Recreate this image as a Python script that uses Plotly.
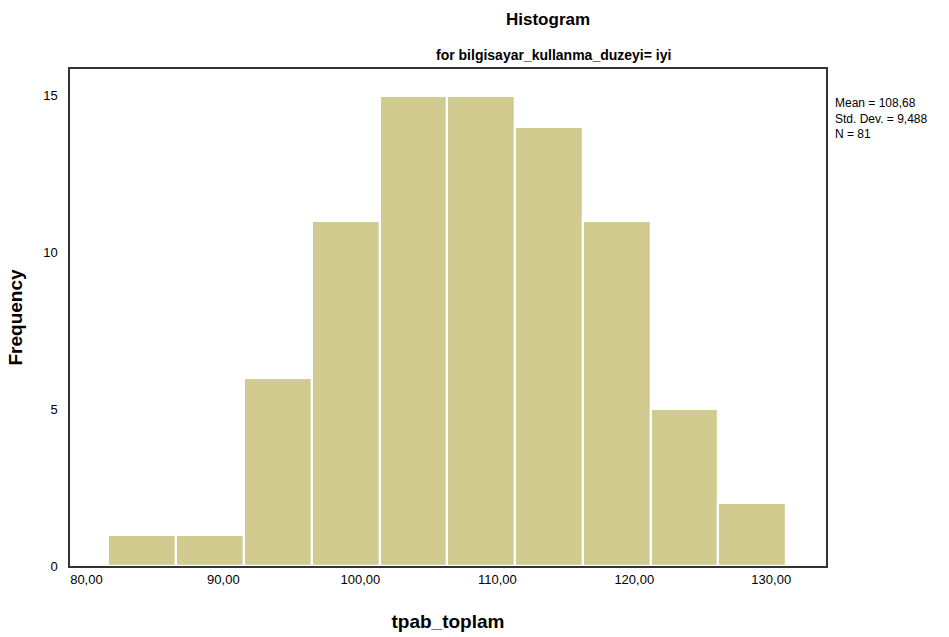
import plotly.graph_objects as go

# Histogram of tpab_toplam for bilgisayar_kullanma_duzeyi = iyi
bin_start = 81.6
bin_width = 4.95
counts = [1, 1, 6, 11, 15, 15, 14, 11, 5, 2]
bin_centers = [bin_start + bin_width * (i + 0.5) for i in range(len(counts))]

x_ticks = [80, 90, 100, 110, 120, 130]
x_tick_labels = ["80,00", "90,00", "100,00", "110,00", "120,00", "130,00"]
y_ticks = [0, 5, 10, 15]

stats_text = "Mean = 108,68<br>Std. Dev. = 9,488<br>N = 81"

FONT = "Liberation Sans, Arial, sans-serif"
BAR_COLOR = "#D2CB8F"

fig = go.Figure(
    go.Bar(
        x=bin_centers,
        y=counts,
        width=[bin_width] * len(counts),
        marker=dict(color=BAR_COLOR, line=dict(color="white", width=2.2)),
        hoverinfo="x+y",
    )
)

fig.update_layout(
    width=949,
    height=637,
    margin=dict(l=70, r=123, t=69, b=71, autoexpand=False),
    paper_bgcolor="white",
    plot_bgcolor="white",
    font=dict(family=FONT, color="black"),
    showlegend=False,
    bargap=0,
    xaxis=dict(
        range=[78.8, 134.0],
        tickvals=x_ticks,
        ticktext=x_tick_labels,
        tickfont=dict(size=13),
        ticks="",
        ticklabelstandoff=1,
        automargin=False,
        showgrid=False,
        zeroline=False,
        showline=True,
        linecolor="#333333",
        linewidth=1.5,
        mirror=True,
        title=dict(text="<b>tpab_toplam</b>", font=dict(size=19), standoff=28),
    ),
    yaxis=dict(
        range=[0, 15.85],
        tickvals=y_ticks,
        tickfont=dict(size=13),
        ticks="",
        ticklabelstandoff=8,
        automargin=False,
        showgrid=False,
        zeroline=False,
        showline=True,
        linecolor="#333333",
        linewidth=1.5,
        mirror=True,
        title=dict(text="<b>Frequency</b>", font=dict(size=19), standoff=16),
    ),
    annotations=[
        dict(
            text="<b>Histogram</b>",
            xref="paper", yref="paper",
            x=0.632, y=1,
            yshift=50,
            showarrow=False,
            xanchor="center", yanchor="middle",
            font=dict(size=17, family=FONT),
        ),
        dict(
            text="<b>for bilgisayar_kullanma_duzeyi= iyi</b>",
            xref="paper", yref="paper",
            x=0.64, y=1,
            yshift=14,
            showarrow=False,
            xanchor="center", yanchor="middle",
            font=dict(size=14, family=FONT),
        ),
        dict(
            text=stats_text,
            xref="paper", yref="paper",
            x=1, y=1,
            xshift=7, yshift=-25,
            showarrow=False,
            xanchor="left", yanchor="top",
            align="left",
            font=dict(size=12, family=FONT),
        ),
    ],
)

fig.write_html("out.html")
